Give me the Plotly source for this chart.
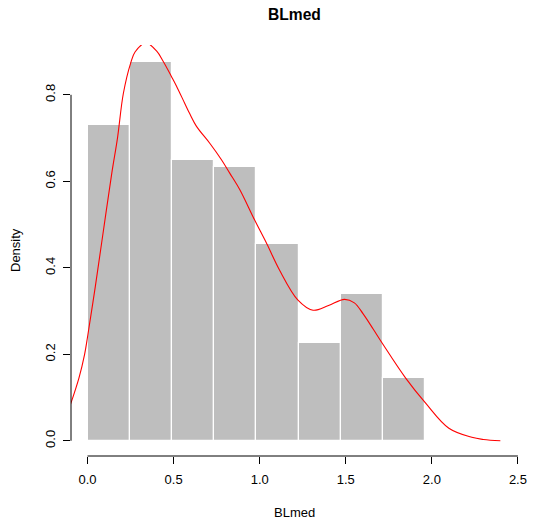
import plotly.graph_objects as go

# Histogram data (density scale)
bin_edges = [0.0, 0.2454, 0.4905, 0.7358, 0.981, 1.2265, 1.4715, 1.717, 1.962]
bar_density = [0.7306, 0.877, 0.650, 0.633, 0.4545, 0.226, 0.3395, 0.1444]

# Kernel density curve
kde_x = [-0.100, -0.050, -0.017, 0.000, 0.045, 0.093, 0.141, 0.174, 0.208, 0.251,
         0.276, 0.339, 0.402, 0.440, 0.488, 0.517, 0.565, 0.594, 0.633, 0.710,
         0.778, 0.826, 0.884, 0.970, 1.042, 1.115, 1.221, 1.310, 1.400, 1.493,
         1.550, 1.600, 1.660, 1.713, 1.848, 1.964, 2.099, 2.232, 2.300, 2.398]
kde_y = [0.083, 0.145, 0.200, 0.240, 0.356, 0.488, 0.619, 0.700, 0.803, 0.874,
         0.899, 0.920, 0.901, 0.877, 0.842, 0.820, 0.780, 0.756, 0.727, 0.688,
         0.650, 0.619, 0.581, 0.511, 0.455, 0.395, 0.326, 0.302, 0.313, 0.327,
         0.319, 0.294, 0.258, 0.225, 0.145, 0.087, 0.029, 0.008, 0.003, 0.000]

x_ticks = [0.0, 0.5, 1.0, 1.5, 2.0, 2.5]
y_ticks = [0.0, 0.2, 0.4, 0.6, 0.8]

centers = [(a + b) / 2 for a, b in zip(bin_edges[:-1], bin_edges[1:])]
widths = [b - a for a, b in zip(bin_edges[:-1], bin_edges[1:])]

FONT = "Liberation Sans, Arial, Helvetica, sans-serif"

fig = go.Figure()
fig.add_trace(go.Bar(
    x=centers, y=bar_density, width=widths,
    marker=dict(color="#bebebe", line=dict(color="white", width=1.2)),
    hoverinfo="skip", showlegend=False,
))
fig.add_trace(go.Scatter(
    x=kde_x, y=kde_y, mode="lines",
    line=dict(color="red", width=1.1, shape="spline", smoothing=1.0),
    hoverinfo="skip", showlegend=False,
))

fig.update_layout(
    width=534, height=527,
    margin=dict(l=70.5, r=15.5, t=45, b=71, pad=0, autoexpand=False),
    plot_bgcolor="white", paper_bgcolor="white",
    font=dict(family=FONT, size=13, color="black"),
    bargap=0,
    xaxis=dict(
        range=[-0.096, 2.5005], tickvals=x_ticks, tickformat=".1f",
        showgrid=False, zeroline=False, showline=False, automargin=False,
        ticks="outside", ticklen=7, tickcolor="black", tickwidth=1,
        ticklabelstandoff=4,
        tickfont=dict(family=FONT, size=13, color="black"),
    ),
    yaxis=dict(
        range=[-0.0352, 0.9152], tickvals=y_ticks, tickformat=".1f",
        showgrid=False, zeroline=False, showline=False, automargin=False,
        ticks="outside", ticklen=7, tickcolor="black", tickwidth=1,
        tickangle=-90, ticklabelstandoff=3,
        tickfont=dict(family=FONT, size=13, color="black"),
    ),
    shapes=[
        dict(type="line", xref="paper", yref="y", x0=0, x1=0,
             y0=y_ticks[0], y1=y_ticks[-1], line=dict(color="black", width=1)),
        dict(type="line", xref="x", yref="paper", x0=x_ticks[0], x1=x_ticks[-1],
             y0=0, y1=0, line=dict(color="black", width=1)),
    ],
    annotations=[
        dict(text="<b>BLmed</b>", xref="paper", yref="paper", x=0.5, y=1,
             yanchor="middle", yshift=31, showarrow=False,
             font=dict(family=FONT, size=15.6, color="black")),
        dict(text="BLmed", xref="paper", yref="paper", x=0.5, y=0,
             yanchor="middle", yshift=-56.7, showarrow=False,
             font=dict(family=FONT, size=13, color="black")),
        dict(text="Density", xref="paper", yref="paper", x=0, y=0.5,
             xanchor="center", xshift=-55.5, textangle=-90, showarrow=False,
             font=dict(family=FONT, size=13, color="black")),
    ],
)

fig.write_html("out.html", config={"displayModeBar": False},
               post_script="document.body.style.margin='0';document.body.style.overflow='hidden';")
